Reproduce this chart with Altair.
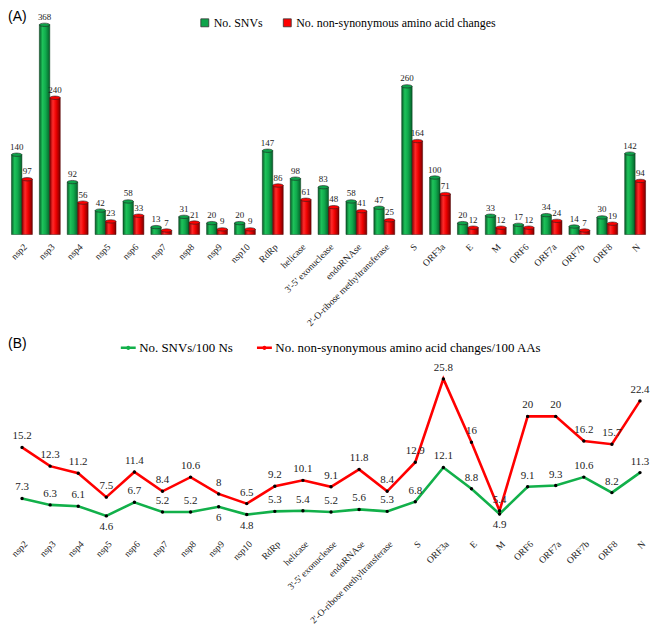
import altair as alt
import pandas as pd

categories = ["nsp2", "nsp3", "nsp4", "nsp5", "nsp6", "nsp7", "nsp8", "nsp9", "nsp10",
              "RdRp", "helicase", "3'-5' exonuclease", "endoRNAse",
              "2'-O-ribose methyltransferase", "S", "ORF3a", "E", "M", "ORF6",
              "ORF7a", "ORF7b", "ORF8", "N"]
snv_counts = [140, 368, 92, 42, 58, 13, 31, 20, 20, 147, 98, 83, 58, 47, 260, 100, 20, 33, 17, 34, 14, 30, 142]
nonsyn_counts = [97, 240, 56, 23, 33, 7, 21, 9, 9, 86, 61, 48, 41, 25, 164, 71, 12, 12, 12, 24, 7, 19, 94]
snv_per100 = [7.3, 6.3, 6.1, 4.6, 6.7, 5.2, 5.2, 6, 4.8, 5.3, 5.4, 5.2, 5.6, 5.3, 6.8, 12.1, 8.8, 4.9, 9.1, 9.3, 10.6, 8.2, 11.3]
nonsyn_per100 = [15.2, 12.3, 11.2, 7.5, 11.4, 8.4, 10.6, 8, 6.5, 9.2, 10.1, 9.1, 11.8, 8.4, 12.9, 25.8, 16, 5.4, 20, 20, 16.2, 15.7, 22.4]

series_a = ["No. SNVs", "No. non-synonymous amino acid changes"]
series_b = ["No. SNVs/100 Ns", "No. non-synonymous amino acid changes/100 AAs"]
green_label_below = ["nsp5", "nsp9", "nsp10", "M"]

SERIF = "Liberation Serif"
SANS = "Liberation Sans"
n = len(categories)

df_a = pd.DataFrame({
    "category": categories * 2,
    "series": [series_a[0]] * n + [series_a[1]] * n,
    "value": snv_counts + nonsyn_counts,
})

pos_b = ["below" if c in green_label_below else "above" for c in categories] + ["above"] * n
df_b = pd.DataFrame({
    "category": categories * 2,
    "series": [series_b[0]] * n + [series_b[1]] * n,
    "value": snv_per100 + nonsyn_per100,
    "pos": pos_b,
})

# ---------------- Panel A ----------------
x_a = alt.X("category:N", sort=categories,
            scale=alt.Scale(paddingInner=0.25, paddingOuter=0.125),
            axis=alt.Axis(title=None, labelAngle=-45, domain=False, ticks=False, grid=False,
                          labelFont=SERIF, labelFontSize=9.5, labelColor="#222",
                          labelPadding=7, labelLimit=300))
xo_a = alt.XOffset("series:N", sort=series_a, scale=alt.Scale(paddingInner=0, paddingOuter=0))
y_a = alt.Y("value:Q", scale=alt.Scale(domain=[0, 368]), axis=None)

green_grad = alt.LinearGradient(gradient="linear", x1=0, x2=1, y1=0, y2=0, stops=[
    alt.GradientStop(offset=0, color="#075a27"),
    alt.GradientStop(offset=0.3, color="#1ec25a"),
    alt.GradientStop(offset=0.6, color="#10aa4c"),
    alt.GradientStop(offset=1, color="#06602a")])
red_grad = alt.LinearGradient(gradient="linear", x1=0, x2=1, y1=0, y2=0, stops=[
    alt.GradientStop(offset=0, color="#8a0000"),
    alt.GradientStop(offset=0.3, color="#ff2a2a"),
    alt.GradientStop(offset=0.6, color="#ee0000"),
    alt.GradientStop(offset=1, color="#7a0000")])

base_a = alt.Chart(df_a).encode(x=x_a, xOffset=xo_a, y=y_a)

bars_g = base_a.transform_filter(alt.datum.series == series_a[0]).mark_bar(
    color=green_grad, stroke="#0b3d1c", strokeWidth=0.5)
bars_r = base_a.transform_filter(alt.datum.series == series_a[1]).mark_bar(
    color=red_grad, stroke="#4d0000", strokeWidth=0.5)

ellipse = "M -1 0 A 1 0.32 0 1 0 1 0 A 1 0.32 0 1 0 -1 0 Z"
tops = base_a.mark_point(shape=ellipse, filled=True, size=110, opacity=1,
                         stroke="#222", strokeWidth=0.6).encode(
    color=alt.Color("series:N", sort=series_a,
                    scale=alt.Scale(domain=series_a, range=["#0ea44a", "#ff0000"]),
                    legend=alt.Legend(title=None, orient="none", direction="horizontal",
                                      legendX=192, legendY=-8, symbolType="square",
                                      symbolSize=64, symbolStrokeColor="#333",
                                      symbolStrokeWidth=0.8, labelFont=SERIF,
                                      labelFontSize=12, labelColor="#000",
                                      labelLimit=400, labelOffset=3, columnPadding=18))
)
labels_a = base_a.mark_text(dy=-8, font=SERIF, fontSize=9).encode(
    text=alt.Text("value:Q"), color=alt.value("#222"))

panel_a = alt.layer(bars_g, bars_r, tops, labels_a).properties(
    width=645, height=211,
    title=alt.Title("(A)", anchor="start", font=SANS, fontSize=14,
                    fontWeight="normal", offset=0, dy=11, color="#000"))

# ---------------- Panel B ----------------
x_b = alt.X("category:N", sort=categories,
            scale=alt.Scale(type="point", padding=0.5),
            axis=alt.Axis(title=None, labelAngle=-45, domain=False, ticks=False,
                          grid=False, labelFont=SERIF, labelFontSize=9.5,
                          labelColor="#222", labelPadding=6, labelLimit=300))
y_b = alt.Y("value:Q", scale=alt.Scale(domain=[2, 28]), axis=None)
base_b = alt.Chart(df_b).encode(x=x_b, y=y_b)

dot_line = "M -1 0 L 1 0 M -0.12 0 A 0.12 0.12 0 1 0 0.12 0 A 0.12 0.12 0 1 0 -0.12 0"
lines = base_b.mark_line(strokeWidth=2.6).encode(
    color=alt.Color("series:N", sort=series_b,
                    scale=alt.Scale(domain=series_b, range=["#12b04a", "#ff0000"]),
                    legend=alt.Legend(title=None, orient="none", direction="horizontal",
                                      legendX=112, legendY=-26, symbolType=dot_line,
                                      symbolSize=225, symbolStrokeWidth=2.6,
                                      symbolFillColor="#000",
                                      labelFont=SERIF, labelFontSize=13,
                                      labelColor="#000", labelOffset=2,
                                      labelLimit=400, columnPadding=18))
)
points = base_b.mark_point(filled=True, size=12, color="#000", opacity=1)
labels_up = base_b.transform_filter(alt.datum.pos == "above").mark_text(
    dy=-11, font=SERIF, fontSize=11).encode(text=alt.Text("value:Q"), color=alt.value("#222"))
labels_dn = base_b.transform_filter(alt.datum.pos == "below").mark_text(
    dy=11, font=SERIF, fontSize=11).encode(text=alt.Text("value:Q"), color=alt.value("#222"))

panel_b = alt.layer(lines, points, labels_up, labels_dn).properties(
    width=650, height=169,
    title=alt.Title("(B)", anchor="start", font=SANS, fontSize=14,
                    fontWeight="normal", offset=0, dy=12, color="#000"))

chart = alt.vconcat(panel_a, panel_b, spacing=131, bounds="flush").resolve_scale(
    color="independent", x="independent", xOffset="independent"
).properties(
    padding={"left": 0, "top": 0, "right": 5, "bottom": 0},
    background="white"
).configure_view(strokeWidth=0, stroke="transparent"
).configure_legend(labelFont=SERIF).configure_text(font=SERIF)

chart.save("out.html", embed_options={"renderer": "svg", "actions": False})
